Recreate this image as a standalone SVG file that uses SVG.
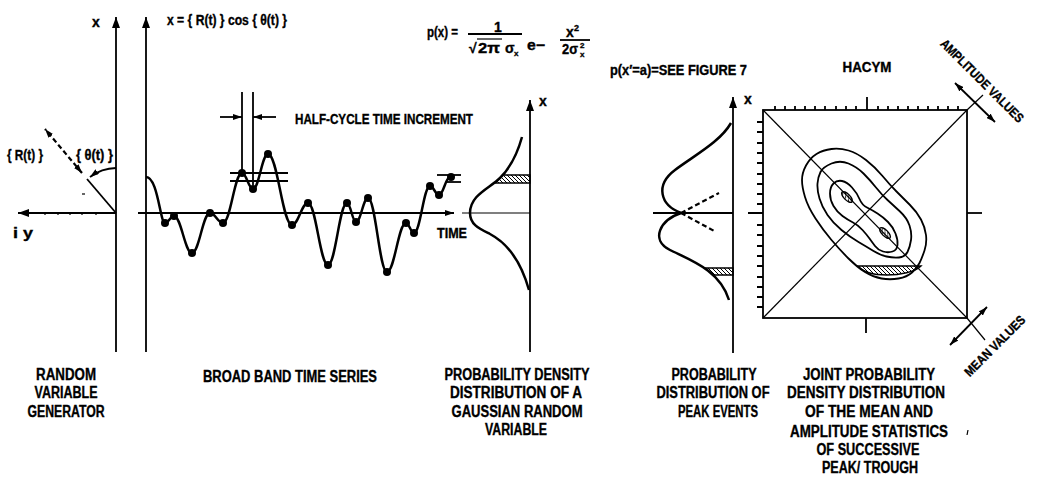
<svg xmlns="http://www.w3.org/2000/svg" width="1039" height="481" viewBox="0 0 1039 481">
<style>
.ln{stroke:#000;fill:none;stroke-width:1.8}
.thin{stroke:#000;fill:none;stroke-width:1.2}
.cv{stroke:#000;fill:none;stroke-width:2.5;stroke-linejoin:round}
.dash{stroke:#000;fill:none;stroke-width:2.2;stroke-dasharray:5 3}
.dot{fill:#000}
.hb{fill:url(#hatch);stroke:#000;stroke-width:1.4}
.t{font-family:"Liberation Sans Narrow","Liberation Sans",Arial,sans-serif;font-weight:bold;fill:#000;stroke:#000;stroke-width:0.35}
.lbl{font-size:16px}
.sm{font-size:14px}
.rt{font-size:13px}
</style>
<defs>
<marker id="ah" markerUnits="userSpaceOnUse" markerWidth="11" markerHeight="8" refX="11" refY="4" orient="auto-start-reverse"><path d="M0,0 L11,4 L0,8 Z" fill="#000"/></marker>
<marker id="as" markerUnits="userSpaceOnUse" markerWidth="9" markerHeight="6" refX="9" refY="3" orient="auto-start-reverse"><path d="M0,0 L9,3 L0,6 Z" fill="#000"/></marker>
<pattern id="hatch" patternUnits="userSpaceOnUse" width="4" height="4"><path d="M-1,-1 L5,5" stroke="#000" stroke-width="1"/></pattern>
</defs>
<rect width="1039" height="481" fill="#fff"/>

<g id="random-variable-generator">
<line class="ln" x1="116" y1="352" x2="116" y2="17" marker-end="url(#ah)"/>
<line class="ln" x1="116" y1="213" x2="18" y2="213" marker-end="url(#ah)"/>
<path class="thin" d="M45,213 v2 M58,213 v2 M70,213 v2 M82,213 v2 M96,213 v2"/>
<line class="ln" x1="116" y1="213" x2="87" y2="179"/>
<line class="dash" x1="82" y1="173" x2="45" y2="129" marker-start="url(#as)" marker-end="url(#as)"/>
<path class="ln" d="M116,168 A45,45 0 0 0 90,177" marker-end="url(#as)"/>
<line class="thin" x1="82" y1="194" x2="85" y2="194"/>
<text class="t sm" x="96" y="27" text-anchor="middle">x</text>
<text class="t sm" x="7" y="160" textLength="36" lengthAdjust="spacingAndGlyphs">{ R(t) }</text>
<text class="t sm" x="76" y="160" textLength="37" lengthAdjust="spacingAndGlyphs">{ θ(t) }</text>
<text class="t sm" x="13" y="238" textLength="20" lengthAdjust="spacingAndGlyphs">i  y</text>
</g>

<g id="time-series">
<line class="ln" x1="146" y1="352" x2="146" y2="17" marker-end="url(#ah)"/>
<line class="ln" x1="138" y1="213" x2="454" y2="213" marker-end="url(#as)"/>
<text class="t sm" x="167" y="25" textLength="120" lengthAdjust="spacingAndGlyphs">x = { R(t) } cos { θ(t) }</text>
<path class="cv" d="M146,177 C158,177 160,223 165,223 C168.6,223 170.4,216 174,216 C181.2,216 184.8,253 192,253 C199.2,253 202.8,213 210,213 C215.2,213 217.8,223 223,223 C230.6,223 234.4,173 242,173 C246.4,173 248.6,189 253,189 C259,189 262,154 268,154 C277.6,154 282.4,225 292,225 C298.4,225 301.6,203 308,203 C316,203 320,265 328,265 C335.6,265 339.4,203 347,203 C350.6,203 352.4,222 356,222 C360.8,222 363.2,198 368,198 C375.6,198 379.4,272 387,272 C394.6,272 398.4,223 406,223 C409.2,223 410.8,233 414,233 C420.4,233 423.6,186 430,186 C433.6,186 435.4,195 439,195 C443.4,195 445.6,177 450,177"/>
<g class="dot">
<circle cx="165" cy="223" r="4"/><circle cx="174" cy="216" r="4"/><circle cx="192" cy="253" r="4"/><circle cx="210" cy="213" r="4"/><circle cx="223" cy="223" r="4"/><circle cx="242" cy="173" r="4"/><circle cx="253" cy="189" r="4"/><circle cx="268" cy="154" r="4"/><circle cx="292" cy="225" r="4"/><circle cx="308" cy="203" r="4"/><circle cx="328" cy="265" r="4"/><circle cx="347" cy="203" r="4"/><circle cx="356" cy="222" r="4"/><circle cx="368" cy="198" r="4"/><circle cx="387" cy="272" r="4"/><circle cx="406" cy="223" r="4"/><circle cx="414" cy="233" r="4"/><circle cx="430" cy="186" r="4"/><circle cx="439" cy="195" r="4"/><circle cx="451" cy="177" r="4"/>
</g>
<line class="ln" x1="230" y1="173" x2="288" y2="173"/>
<line class="ln" x1="230" y1="181" x2="288" y2="181"/>
<line class="ln" x1="437" y1="175" x2="461" y2="175"/>
<line class="ln" x1="446" y1="182" x2="461" y2="182"/>
<line class="ln" x1="242" y1="92" x2="242" y2="173"/>
<line class="ln" x1="253" y1="92" x2="253" y2="185"/>
<line class="ln" x1="220" y1="117" x2="242" y2="117" marker-end="url(#as)"/>
<line class="ln" x1="276" y1="117" x2="253" y2="117" marker-end="url(#as)"/>
<text class="t sm" x="295" y="124" textLength="178" lengthAdjust="spacingAndGlyphs">HALF-CYCLE TIME INCREMENT</text>
<text class="t sm" x="437" y="238" textLength="30" lengthAdjust="spacingAndGlyphs">TIME</text>
</g>

<g id="gaussian-pdf">
<line class="ln" x1="530" y1="352" x2="530" y2="100" marker-end="url(#ah)"/>
<line class="thin" x1="462" y1="213" x2="530" y2="213"/>
<path class="hb" d="M503,175 L530,175 L530,183 L495,183 Z"/>
<path class="cv" d="M522,137 C517,155 510,168 500,178 C490,188 470,195 470,213 C470,225 480,229 490,234 C505,242 520,258 529,290"/>
<text class="t sm" x="543" y="106" text-anchor="middle">x</text>
<text class="t sm" x="427" y="37" textLength="31" lengthAdjust="spacingAndGlyphs">p(x) =</text>
<text class="t sm" x="498" y="32" text-anchor="middle">1</text>
<line class="ln" x1="468" y1="34" x2="522" y2="34"/>
<text class="t sm" x="469" y="53">√</text>
<line class="thin" x1="477" y1="39" x2="502" y2="39"/>
<text class="t sm" x="478" y="53" textLength="22" lengthAdjust="spacingAndGlyphs">2π</text>
<text class="t sm" x="505" y="53">σ</text>
<text class="t" style="font-size:8px" x="514" y="56">x</text>
<text class="t sm" x="527" y="50" textLength="18" lengthAdjust="spacingAndGlyphs">e−</text>
<text class="t sm" x="566" y="37">x</text>
<text class="t" style="font-size:9px" x="574" y="31">2</text>
<line class="ln" x1="560" y1="40" x2="590" y2="40"/>
<text class="t sm" x="562" y="54" textLength="16" lengthAdjust="spacingAndGlyphs">2σ</text>
<text class="t" style="font-size:8px" x="580" y="48">2</text>
<text class="t" style="font-size:8px" x="580" y="57">x</text>
</g>

<g id="peak-distribution">
<line class="ln" x1="733" y1="353" x2="733" y2="97" marker-end="url(#ah)"/>
<line class="ln" x1="653" y1="213" x2="733" y2="213"/>
<path class="hb" d="M705,268 L733,268 L733,275 L714,275 Z"/>
<path class="cv" d="M731,123 C720,142 695,155 675,170 C655,185 660,205 681,213"/>
<path class="cv" d="M681,213 C660,220 650,240 670,250 C690,260 720,270 729,300"/>
<line class="dash" x1="681" y1="213" x2="719" y2="193"/>
<line class="dash" x1="681" y1="213" x2="716" y2="232"/>
<text class="t sm" x="748" y="104" text-anchor="middle">x</text>
<text class="t sm" x="610" y="75" textLength="137" lengthAdjust="spacingAndGlyphs">p(x′=a)=SEE FIGURE 7</text>
</g>

<g id="joint-pdf">
<rect class="ln" x="763" y="110" width="204" height="208"/>
<line class="thin" x1="763" y1="110" x2="967" y2="318"/>
<line class="thin" x1="967" y1="110" x2="763" y2="318"/>
<line class="thin" x1="967" y1="110" x2="983" y2="95"/>
<line class="thin" x1="967" y1="318" x2="985" y2="340"/>
<path class="ln" d="M775,110 v-4 M785,110 v-4 M795,110 v-4 M805,110 v-4 M815,110 v-4 M825,110 v-4 M836,110 v-4 M846,110 v-4 M856,110 v-4 M867,110 v-13 M878,110 v-4 M888,110 v-4 M898,110 v-4 M908,110 v-4 M918,110 v-4 M928,110 v-4 M938,110 v-4 M948,110 v-4 M958,110 v-4"/>
<path class="ln" d="M757,122 h6 M757,132 h6 M757,143 h6 M757,153 h6 M757,163 h6 M757,174 h6 M757,184 h6 M757,194 h6 M757,204 h6 M748,213 h15 M757,225 h6 M757,235 h6 M757,246 h6 M757,256 h6 M757,266 h6 M757,277 h6 M757,287 h6 M757,297 h6 M757,307 h6"/>
<line class="ln" x1="866" y1="318" x2="866" y2="333"/>
<line class="ln" x1="967" y1="213" x2="982" y2="213"/>
<path class="ln" d="M806,165.5 Q810,158 816.5,154 Q823,150 831.5,149 Q840,148 848.5,150.5 Q857,153 866,160 Q875,167 882.5,176 Q890,185 896.5,191.5 Q903,198 910,205 Q917,212 921,219.5 Q925,227 926,235 Q927,243 924.5,250.5 Q922,258 919.5,263 Q917,268 912,272.5 Q907,277 898.5,278.5 Q890,280 881.5,278.5 Q873,277 865,272 Q857,267 848.5,258.5 Q840,250 831.5,240 Q823,230 815.5,218.5 Q808,207 805,197 Q802,187 802,180 Q802,173 806,165.5 Z"/>
<path class="ln" d="M817.5,183.5 Q818,177 820.5,172 Q823,167 831.5,163.5 Q840,160 848.5,163.5 Q857,167 863.5,173.5 Q870,180 876,187.5 Q882,195 887.5,200 Q893,205 900,211.5 Q907,218 909.5,225.5 Q912,233 911,240 Q910,247 907.5,252 Q905,257 899,257.5 Q893,258 886.5,256.5 Q880,255 873.5,251 Q867,247 858.5,242 Q850,237 841.5,230 Q833,223 827.5,215 Q822,207 819.5,198.5 Q817,190 817.5,183.5 Z"/>
<path class="ln" d="M830,193.5 Q830,187 833.5,183.5 Q837,180 842,181 Q847,182 852,187.5 Q857,193 859.5,199 Q862,205 867,207.5 Q872,210 877.5,213.5 Q883,217 888,222 Q893,227 895.5,233.5 Q898,240 897.5,245 Q897,250 892.5,251.5 Q888,253 883,251.5 Q878,250 875,246 Q872,242 869.5,238.5 Q867,235 862.5,230 Q858,225 853,222.5 Q848,220 842.5,216 Q837,212 833.5,206 Q830,200 830,193.5 Z"/>
<ellipse class="hb" cx="847" cy="197" rx="7" ry="3" transform="rotate(45 847 197)"/>
<ellipse class="hb" cx="885" cy="233" rx="7" ry="3" transform="rotate(45 885 233)"/>
<path class="hb" d="M858,266 L921,266 C915,272 900,275 887,275 C872,275 862,271 858,266 Z"/>
<line class="ln" x1="955" y1="83" x2="995" y2="122" marker-start="url(#as)" marker-end="url(#as)"/>
<line class="ln" x1="950" y1="345" x2="987" y2="307" marker-start="url(#as)" marker-end="url(#as)"/>
<text class="t sm" x="867" y="72" text-anchor="middle" textLength="49" lengthAdjust="spacingAndGlyphs">HACYM</text>
<text class="t rt" transform="translate(979,84) rotate(45)" text-anchor="middle" textLength="112" lengthAdjust="spacingAndGlyphs">AMPLITUDE VALUES</text>
<text class="t rt" transform="translate(998,349) rotate(-45)" text-anchor="middle" textLength="80" lengthAdjust="spacingAndGlyphs">MEAN VALUES</text>
<line class="thin" x1="968" y1="430" x2="967" y2="435"/>
</g>

<g id="captions" class="t lbl" text-anchor="middle">
<text x="66" y="380" textLength="60" lengthAdjust="spacingAndGlyphs">RANDOM</text>
<text x="66" y="398" textLength="63" lengthAdjust="spacingAndGlyphs">VARIABLE</text>
<text x="66" y="417" textLength="77" lengthAdjust="spacingAndGlyphs">GENERATOR</text>
<text x="290" y="382" textLength="174" lengthAdjust="spacingAndGlyphs">BROAD BAND TIME SERIES</text>
<text x="517" y="380" textLength="145" lengthAdjust="spacingAndGlyphs">PROBABILITY DENSITY</text>
<text x="516" y="398" textLength="132" lengthAdjust="spacingAndGlyphs">DISTRIBUTION OF A</text>
<text x="517" y="417" textLength="131" lengthAdjust="spacingAndGlyphs">GAUSSIAN RANDOM</text>
<text x="516" y="435" textLength="62" lengthAdjust="spacingAndGlyphs">VARIABLE</text>
<text x="714" y="380" textLength="85" lengthAdjust="spacingAndGlyphs">PROBABILITY</text>
<text x="713" y="398" textLength="113" lengthAdjust="spacingAndGlyphs">DISTRIBUTION OF</text>
<text x="718" y="417" textLength="80" lengthAdjust="spacingAndGlyphs">PEAK EVENTS</text>
<text x="869" y="380" textLength="132" lengthAdjust="spacingAndGlyphs">JOINT PROBABILITY</text>
<text x="866" y="398" textLength="158" lengthAdjust="spacingAndGlyphs">DENSITY DISTRIBUTION</text>
<text x="869" y="417" textLength="128" lengthAdjust="spacingAndGlyphs">OF THE MEAN AND</text>
<text x="869" y="437" textLength="158" lengthAdjust="spacingAndGlyphs">AMPLITUDE STATISTICS</text>
<text x="868" y="455" textLength="103" lengthAdjust="spacingAndGlyphs">OF SUCCESSIVE</text>
<text x="870" y="473" textLength="96" lengthAdjust="spacingAndGlyphs">PEAK/ TROUGH</text>
</g>
</svg>
